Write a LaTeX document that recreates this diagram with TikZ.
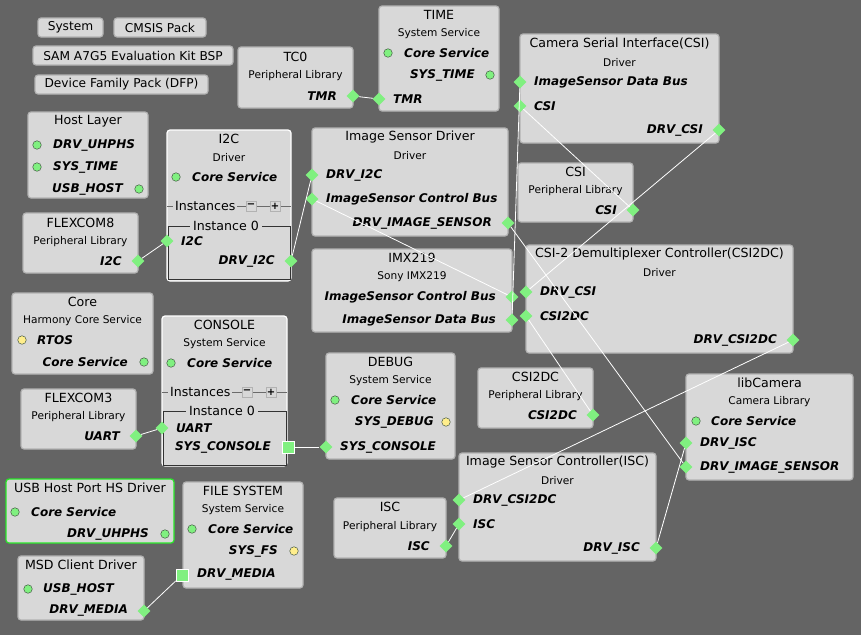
\documentclass[tikz,border=0pt]{standalone}
\usepackage{fontspec}
\setmainfont{DejaVu Sans}
\usepackage{tikz}
\usetikzlibrary{shapes.geometric}
\definecolor{canvas}{RGB}{100,100,100}
\definecolor{boxfill}{RGB}{216,216,216}
\definecolor{boxline}{RGB}{178,178,178}
\definecolor{portgreen}{RGB}{128,240,128}
\definecolor{portyellow}{RGB}{255,238,140}
\definecolor{dotline}{RGB}{70,90,70}
\definecolor{selgreen}{RGB}{40,230,40}

\begin{document}
\begin{tikzpicture}[x=1pt,y=-1pt,
  box/.style={draw=boxline,fill=boxfill,rounded corners=3pt,line width=1.2pt},
  btn/.style={draw=boxline,fill=boxfill,rounded corners=3pt,line width=1.2pt,
    font=\fontsize{12.2}{14}\selectfont},
  ttl/.style={font=\fontsize{12.6}{14}\selectfont,inner sep=0pt},
  sub/.style={font=\fontsize{10.6}{12}\selectfont,inner sep=0pt},
  lport/.style={anchor=west,inner sep=0pt,font=\fontsize{12}{14}\selectfont\bfseries\itshape},
  rport/.style={anchor=east,inner sep=0pt,font=\fontsize{12}{14}\selectfont\bfseries\itshape},
  gdot/.style={circle,draw=dotline,fill=portgreen,inner sep=0pt,minimum size=8.5pt,line width=0.5pt},
  ydot/.style={circle,draw=dotline,fill=portyellow,inner sep=0pt,minimum size=8.5pt,line width=0.5pt},
  pdia/.style={diamond,fill=portgreen,inner sep=0pt,minimum width=13pt,minimum height=13pt},
  psq/.style={rectangle,fill=portgreen,draw=white,line width=0.4pt,inner sep=0pt,minimum size=12pt},
  pm/.style={draw=boxline,fill=boxfill,inner sep=0pt,minimum size=10pt,font=\bfseries\fontsize{10}{10}\selectfont},
  inst/.style={draw=black!80,line width=0.8pt},
  wire/.style={draw=white,line width=0.8pt}]
  \fill[canvas] (0,0) rectangle (861,635);
  \useasboundingbox (0,0) rectangle (861,635);

  % buttons
  \node[btn,minimum width=65pt,minimum height=19pt] (sysbtn) at (70.5,27.5) {System};
  \node[btn,minimum width=92pt,minimum height=19pt] (cmsisbtn) at (160,27.5) {CMSIS Pack};
  \node[btn,minimum width=200pt,minimum height=19pt] (bspbtn) at (133,55.5) {SAM A7G5 Evaluation Kit BSP};
  \node[btn,minimum width=173pt,minimum height=19pt] (dfpbtn) at (121.5,84.5) {Device Family Pack (DFP)};

  % TC0
  \draw[box] (238,47) rectangle (353,108);
  \node[ttl] (tc0t) at (295.5,57) {TC0};
  \node[sub] (tc0s) at (295.5,76) {Peripheral Library};
  \node[rport] (tc0l) at (337,96) {TMR};
  \node[pdia] (tc0tmr) at (353,96) {};

  % TIME
  \draw[box] (379,6) rectangle (499,111);
  \node[ttl] (timet) at (439,15) {TIME};
  \node[sub] (times) at (439,34) {System Service};
  \node[gdot] (timecore) at (388,53) {};
  \node[lport] (timel1) at (404,53) {Core Service};
  \node[rport] (timel2) at (475,75) {SYS\_TIME};
  \node[gdot] (timesys) at (490,75) {};
  \node[lport] (timel3) at (393,99) {TMR};
  \node[pdia] (timetmr) at (379,99) {};

  % Camera Serial Interface
  \draw[box] (520,34) rectangle (719,143);
  \node[ttl] (csit) at (619.5,44) {Camera Serial Interface(CSI)};
  \node[sub] (csis) at (619.5,63) {Driver};
  \node[pdia] (csidata) at (520,82) {};
  \node[lport] (csil1) at (534,82) {ImageSensor Data Bus};
  \node[pdia] (csicsi) at (520,106) {};
  \node[lport] (csil2) at (534,106) {CSI};
  \node[rport] (csil3) at (703,130) {DRV\_CSI};
  \node[pdia] (csidrv) at (719,130) {};

  % Host Layer
  \draw[box] (28,112) rectangle (148,198);
  \node[ttl] (hostt) at (88,121) {Host Layer};
  \node[gdot] (hostuhphs) at (37,145) {};
  \node[lport] (hostl1) at (53,145) {DRV\_UHPHS};
  \node[gdot] (hosttime) at (37,167) {};
  \node[lport] (hostl2) at (53,167) {SYS\_TIME};
  \node[rport] (hostl3) at (123,189) {USB\_HOST};
  \node[gdot] (hostusb) at (139,189) {};

  % I2C
  \draw[box,draw=white] (167,130) rectangle (291,281);
  \node[ttl] (i2ct) at (229,139) {I2C};
  \node[sub] (i2cs) at (229,158) {Driver};
  \node[gdot] (i2ccore) at (176,177) {};
  \node[lport] (i2cl1) at (192,177) {Core Service};
  \draw[boxline!60!black,line width=0.6pt] (167,206) -- (291,206);
  \node[ttl,fill=boxfill,inner xsep=2pt,anchor=west] (i2cinst) at (173,206) {Instances};
  \node[pm] (i2cminus) at (251,206) {−};
  \node[pm] (i2cplus) at (275,206) {+};
  \draw[inst] (168,226) rectangle (290,279);
  \node[ttl,fill=boxfill,inner xsep=3pt] (i2cinst0) at (226,226) {Instance 0};
  \node[pdia] (i2ci2c) at (167,241) {};
  \node[lport] (i2cl2) at (181,241) {I2C};
  \node[rport] (i2cl3) at (275,261) {DRV\_I2C};
  \node[pdia] (i2cdrv) at (291,261) {};

  % Image Sensor Driver
  \draw[box] (312,128) rectangle (508,236);
  \node[ttl] (isdt) at (410,137) {Image Sensor Driver};
  \node[sub] (isds) at (410,156) {Driver};
  \node[pdia] (isddrvi2c) at (312,175) {};
  \node[lport] (isdl1) at (326,175) {DRV\_I2C};
  \node[pdia] (isdctl) at (312,199) {};
  \node[lport] (isdl2) at (326,199) {ImageSensor Control Bus};
  \node[rport] (isdl3) at (492,223) {DRV\_IMAGE\_SENSOR};
  \node[pdia] (isdsens) at (508,223) {};

  % CSI peripheral library
  \draw[box] (518,163) rectangle (633,222);
  \node[ttl] (csipt) at (575.5,172) {CSI};
  \node[sub] (csips) at (575.5,191) {Peripheral Library};
  \node[rport] (csipl) at (617,210) {CSI};
  \node[pdia] (csipcsi) at (633,210) {};

  % FLEXCOM8
  \draw[box] (23,213) rectangle (138,273);
  \node[ttl] (fc8t) at (80.5,223) {FLEXCOM8};
  \node[sub] (fc8s) at (80.5,242) {Peripheral Library};
  \node[rport] (fc8l) at (122,261) {I2C};
  \node[pdia] (fc8i2c) at (138,261) {};

  % IMX219
  \draw[box] (312,249) rectangle (512,332);
  \node[ttl] (imxt) at (412,258) {IMX219};
  \node[sub] (imxs) at (412,277) {Sony IMX219};
  \node[rport] (imxl1) at (496,297) {ImageSensor Control Bus};
  \node[pdia] (imxctl) at (512,297) {};
  \node[rport] (imxl2) at (496,320) {ImageSensor Data Bus};
  \node[pdia] (imxdata) at (512,320) {};

  % CSI2DC driver
  \draw[box] (526,245) rectangle (793,353);
  \node[ttl] (c2dct) at (659.5,254) {CSI-2 Demultiplexer Controller(CSI2DC)};
  \node[sub] (c2dcs) at (659.5,273) {Driver};
  \node[pdia] (c2dcdrvcsi) at (526,292) {};
  \node[lport] (c2dcl1) at (540,292) {DRV\_CSI};
  \node[pdia] (c2dccsi) at (526,316) {};
  \node[lport] (c2dcl2) at (540,316) {CSI2DC};
  \node[rport] (c2dcl3) at (777,340) {DRV\_CSI2DC};
  \node[pdia] (c2dcdrv) at (793,340) {};

  % Core
  \draw[box] (12,293) rectangle (153,374);
  \node[ttl] (coret) at (82.5,302) {Core};
  \node[sub] (cores) at (82.5,321) {Harmony Core Service};
  \node[ydot] (corertos) at (22,340) {};
  \node[lport] (corel1) at (37,340) {RTOS};
  \node[rport] (corel2) at (128,362) {Core Service};
  \node[gdot] (corecore) at (144,362) {};

  % CONSOLE
  \draw[box,draw=white] (162,316) rectangle (287,466);
  \node[ttl] (cont) at (224.5,325) {CONSOLE};
  \node[sub] (cons) at (224.5,344) {System Service};
  \node[gdot] (concore) at (171,363) {};
  \node[lport] (conl1) at (187,363) {Core Service};
  \draw[boxline!60!black,line width=0.6pt] (162,392) -- (287,392);
  \node[ttl,fill=boxfill,inner xsep=2pt,anchor=west] (coninst) at (168,392) {Instances};
  \node[pm] (conminus) at (247,392) {−};
  \node[pm] (conplus) at (271,392) {+};
  \draw[inst] (163,411) rectangle (286,465);
  \node[ttl,fill=boxfill,inner xsep=3pt] (coninst0) at (222,411) {Instance 0};
  \node[pdia] (conuart) at (162,428) {};
  \node[lport] (conl2) at (176,428) {UART};
  \node[rport] (conl3) at (271,447) {SYS\_CONSOLE};
  \node[psq] (consys) at (288,447) {};

  % DEBUG
  \draw[box] (326,353) rectangle (455,459);
  \node[ttl] (dbgt) at (390.5,362) {DEBUG};
  \node[sub] (dbgs) at (390.5,381) {System Service};
  \node[gdot] (dbgcore) at (335,400) {};
  \node[lport] (dbgl1) at (351,400) {Core Service};
  \node[rport] (dbgl2) at (434,422) {SYS\_DEBUG};
  \node[ydot] (dbgsys) at (446,422) {};
  \node[pdia] (dbgcon) at (326,447) {};
  \node[lport] (dbgl3) at (340,447) {SYS\_CONSOLE};

  % CSI2DC peripheral library
  \draw[box] (478,368) rectangle (593,428);
  \node[ttl] (c2dcpt) at (535.5,377) {CSI2DC};
  \node[sub] (c2dcps) at (535.5,396) {Peripheral Library};
  \node[rport] (c2dcpl) at (577,415) {CSI2DC};
  \node[pdia] (c2dcpcsi) at (593,415) {};

  % FLEXCOM3
  \draw[box] (21,389) rectangle (136,449);
  \node[ttl] (fc3t) at (78.5,398) {FLEXCOM3};
  \node[sub] (fc3s) at (78.5,417) {Peripheral Library};
  \node[rport] (fc3l) at (120,436) {UART};
  \node[pdia] (fc3uart) at (136,436) {};

  % libCamera
  \draw[box] (686,374) rectangle (853,480);
  \node[ttl] (camt) at (769.5,383) {libCamera};
  \node[sub] (cams) at (769.5,402) {Camera Library};
  \node[gdot] (camcore) at (696,421) {};
  \node[lport] (caml1) at (711,421) {Core Service};
  \node[pdia] (camisc) at (686,443) {};
  \node[lport] (caml2) at (700,443) {DRV\_ISC};
  \node[pdia] (camsens) at (686,467) {};
  \node[lport] (caml3) at (700,467) {DRV\_IMAGE\_SENSOR};

  % USB Host Port HS Driver
  \draw[box,draw=selgreen] (6,479) rectangle (174,543);
  \node[ttl] (uhst) at (90,488) {USB Host Port HS Driver};
  \node[gdot] (uhscore) at (15,512) {};
  \node[lport] (uhsl1) at (31,512) {Core Service};
  \node[rport] (uhsl2) at (149,534) {DRV\_UHPHS};
  \node[gdot] (uhsdrv) at (165,534) {};

  % FILE SYSTEM
  \draw[box] (183,482) rectangle (303,588);
  \node[ttl] (fst) at (243,491) {FILE SYSTEM};
  \node[sub] (fss) at (243,510) {System Service};
  \node[gdot] (fscore) at (192,529) {};
  \node[lport] (fsl1) at (208,529) {Core Service};
  \node[rport] (fsl2) at (278,551) {SYS\_FS};
  \node[ydot] (fssys) at (294,551) {};
  \node[psq] (fsmedia) at (182,575) {};
  \node[lport] (fsl3) at (197,575) {DRV\_MEDIA};

  % Image Sensor Controller
  \draw[box] (459,453) rectangle (656,561);
  \node[ttl] (isct) at (557.5,462) {Image Sensor Controller(ISC)};
  \node[sub] (iscs) at (557.5,481) {Driver};
  \node[pdia] (iscdrvc2dc) at (459,500) {};
  \node[lport] (iscl1) at (473,500) {DRV\_CSI2DC};
  \node[pdia] (iscisc) at (459,524) {};
  \node[lport] (iscl2) at (473,524) {ISC};
  \node[rport] (iscl3) at (640,548) {DRV\_ISC};
  \node[pdia] (iscdrv) at (656,548) {};

  % ISC peripheral library
  \draw[box] (334,498) rectangle (446,558);
  \node[ttl] (iscpt) at (390,507) {ISC};
  \node[sub] (iscps) at (390,527) {Peripheral Library};
  \node[rport] (iscpl) at (430,546) {ISC};
  \node[pdia] (iscpisc) at (446,546) {};

  % MSD Client Driver
  \draw[box] (18,556) rectangle (144,620);
  \node[ttl] (msdt) at (81,565) {MSD Client Driver};
  \node[gdot] (msdusb) at (28,589) {};
  \node[lport] (msdl1) at (43,589) {USB\_HOST};
  \node[rport] (msdl2) at (128,611) {DRV\_MEDIA};
  \node[pdia] (msdmedia) at (144,611) {};

  % connections
  \draw[wire] (tc0tmr) -- (timetmr);
  \draw[wire] (fc8i2c) -- (i2ci2c);
  \draw[wire] (i2cdrv) -- (isddrvi2c);
  \draw[wire] (isdctl) -- (imxctl);
  \draw[wire] (isdsens) -- (camsens);
  \draw[wire] (csidata) -- (imxdata);
  \draw[wire] (csicsi) -- (csipcsi);
  \draw[wire] (csidrv) -- (c2dcdrvcsi);
  \draw[wire] (c2dccsi) -- (c2dcpcsi);
  \draw[wire] (c2dcdrv) -- (iscdrvc2dc);
  \draw[wire] (iscpisc) -- (iscisc);
  \draw[wire] (iscdrv) -- (camisc);
  \draw[wire] (consys) -- (dbgcon);
  \draw[wire] (fc3uart) -- (conuart);
  \draw[wire] (msdmedia) -- (fsmedia);
\end{tikzpicture}
\end{document}
